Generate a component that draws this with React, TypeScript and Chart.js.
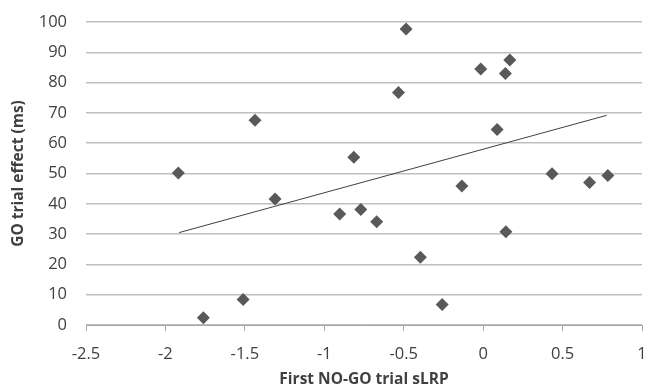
import React, { useEffect, useRef } from "react";
import { Chart, registerables } from "chart.js";

Chart.register(...registerables);

const sLRP = [
  -1.919, -1.761, -1.511, -1.436, -1.31, -0.903, -0.814, -0.77, -0.67, -0.533, -0.485,
  -0.395, -0.258, -0.134, -0.015, 0.088, 0.14, 0.143, 0.168, 0.434, 0.67, 0.785,
];
const goEffect = [
  50.2, 2.4, 8.4, 67.6, 41.6, 36.6, 55.4, 38.1, 34.1, 76.7, 97.7,
  22.4, 6.8, 45.9, 84.5, 64.5, 83.0, 30.8, 87.5, 49.9, 47.0, 49.3,
];
const trendX = [-1.914, 0.778];
const trendY = [30.5, 69.2];
const xTicks = [-2.5, -2, -1.5, -1, -0.5, 0, 0.5, 1];
const xTickLabels = ["-2.5", "-2", "-1.5", "-1", "-0.5", "0", "0.5", "1"];
const yTicks = [0, 10, 20, 30, 40, 50, 60, 70, 80, 90, 100];
const yTickLabels = ["0", "10", "20", "30", "40", "50", "60", "70", "80", "90", "100"];
const xTitle = "First NO-GO trial sLRP";
const yTitle = "GO trial effect (ms)";

export default function App() {
  const ref = useRef<HTMLCanvasElement | null>(null);
  useEffect(() => {
    document.body.style.margin = "0";
    const ctx = ref.current!;
    const fontFamily = "'Open Sans', sans-serif";
    const chart = new Chart(ctx, {
      type: "scatter",
      data: {
        datasets: [
          {
            label: "data",
            data: sLRP.map((x, i) => ({ x, y: goEffect[i] })),
            pointStyle: "rectRot",
            pointRadius: 6.5,
            backgroundColor: "#595959",
            borderColor: "#595959",
            borderWidth: 0,
          },
          {
            label: "trend",
            data: trendX.map((x, i) => ({ x, y: trendY[i] })),
            showLine: true,
            pointRadius: 0,
            borderColor: "#404040",
            borderWidth: 1,
          },
        ],
      },
      options: {
        animation: false,
        responsive: true,
        maintainAspectRatio: false,
        layout: { padding: { top: 22, right: 13, bottom: 0, left: 0 } },
        plugins: { legend: { display: false }, tooltip: { enabled: false } },
        scales: {
          x: {
            type: "linear",
            min: -2.5,
            max: 1,
            afterBuildTicks: (s: any) => {
              s.ticks = xTicks.map((v) => ({ value: v }));
            },
            afterFit: (s: any) => {
              s.height = 59;
              s.paddingLeft = 0;
              s.paddingRight = 0;
            },
            ticks: {
              callback: (v: any) => {
                const i = xTicks.indexOf(Number(v));
                return i >= 0 ? xTickLabels[i] : "";
              },
              font: { family: fontFamily, size: 16.5 },
              color: "#404040",
              padding: 13,
              maxRotation: 0,
            },
            grid: {
              drawOnChartArea: false,
              drawTicks: true,
              tickLength: 6,
              color: "#a6a6a6",
            },
            border: { display: true, color: "#a6a6a6", width: 1 },
            title: {
              display: true,
              text: xTitle,
              font: { family: fontFamily, size: 15.5, weight: "bold", lineHeight: 1 },
              color: "#404040",
              padding: { top: 0, bottom: -3 },
            },
          },
          y: {
            type: "linear",
            min: 0,
            max: 100,
            afterBuildTicks: (s: any) => {
              s.ticks = yTicks.map((v) => ({ value: v }));
            },
            afterFit: (s: any) => {
              s.width = 86;
              s.paddingTop = 0;
              s.paddingBottom = 0;
            },
            ticks: {
              callback: (v: any) => {
                const i = yTicks.indexOf(Number(v));
                return i >= 0 ? yTickLabels[i] : "";
              },
              font: { family: fontFamily, size: 16.5 },
              color: "#404040",
              padding: 19,
            },
            grid: {
              drawTicks: false,
              color: "#bfbfbf",
              lineWidth: 1.5,
            },
            border: { display: false },
            title: {
              display: true,
              text: yTitle,
              font: { family: fontFamily, size: 15.5, weight: "bold", lineHeight: 1.2 },
              color: "#404040",
              padding: { top: 9, bottom: 0 },
            },
          },
        },
      },
    });
    return () => chart.destroy();
  }, []);
  return (
    <div style={{ position: "fixed", left: 0, top: 0, width: 655, height: 384 }}>
      <canvas ref={ref} />
    </div>
  );
}
